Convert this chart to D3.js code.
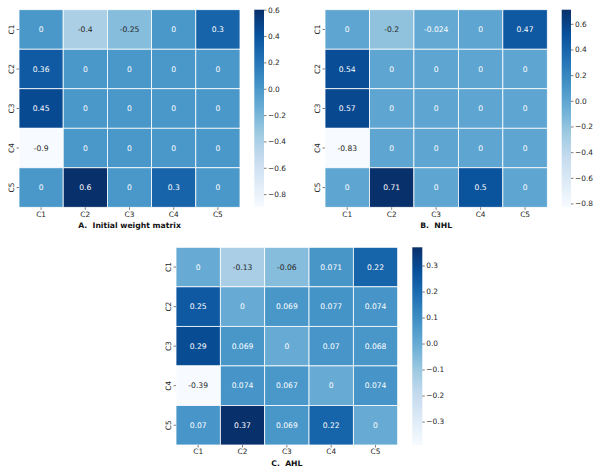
<!DOCTYPE html>
<html>
<head>
<meta charset="utf-8">
<script src="https://cdn.jsdelivr.net/npm/d3@7"></script>
<style>
  body { margin: 0; background: #fff; }
  text { font-family: "DejaVu Sans", sans-serif; }
</style>
</head>
<body>
<svg id="vis"></svg>
<script>
const WIDTH = 600;
const HEIGHT = 472;

const labels = ["C1", "C2", "C3", "C4", "C5"];

// weight matrices, rows = source, cols = target
const initialW = [
  [0, -0.4, -0.25, 0, 0.3],
  [0.36, 0, 0, 0, 0],
  [0.45, 0, 0, 0, 0],
  [-0.9, 0, 0, 0, 0],
  [0, 0.6, 0, 0.3, 0]
];
const nhlW = [
  [0, -0.2, -0.024, 0, 0.47],
  [0.54, 0, 0, 0, 0],
  [0.57, 0, 0, 0, 0],
  [-0.83, 0, 0, 0, 0],
  [0, 0.71, 0, 0.5, 0]
];
const ahlW = [
  [0, -0.13, -0.06, 0.071, 0.22],
  [0.25, 0, 0.069, 0.077, 0.074],
  [0.29, 0.069, 0, 0.07, 0.068],
  [-0.39, 0.074, 0.067, 0, 0.074],
  [0.07, 0.37, 0.069, 0.22, 0]
];

const ticksAB = [0.6, 0.4, 0.2, 0.0, -0.2, -0.4, -0.6, -0.8];
const ticksC = [0.3, 0.2, 0.1, 0.0, -0.1, -0.2, -0.3];

const titles = ["A.  Initial weight matrix", "B.  NHL", "C.  AHL"];

const SVG = d3.select("#vis")
  .attr("width", WIDTH)
  .attr("height", HEIGHT);

// matplotlib "Blues" = linear through the 9 brewer colours
const blues = d3.schemeBlues[9];

function luminance(c) {
  const rgb = d3.rgb(c);
  const lin = [rgb.r, rgb.g, rgb.b].map(v => {
    v = v / 255;
    return v <= 0.03928 ? v / 12.92 : Math.pow((v + 0.055) / 1.055, 2.4);
  });
  return 0.2126 * lin[0] + 0.7152 * lin[1] + 0.0722 * lin[2];
}

function fmt(v) {
  // like python's .2g
  if (v === 0) return "0";
  return String(+v.toPrecision(2));
}

function heatmap(data, ticks, title, box, id) {
  const g = SVG.append("g").attr("id", id);
  const flat = data.flat();
  const vmin = d3.min(flat), vmax = d3.max(flat);

  const color = d3.scaleLinear()
    .domain(d3.range(9).map(i => vmin + (vmax - vmin) * i / 8))
    .range(blues)
    .interpolate(d3.interpolateRgb);

  const x = d3.scaleBand().domain(labels).range([box.x0, box.x1]);
  const y = d3.scaleBand().domain(labels).range([box.y0, box.y1]);

  const cells = [];
  data.forEach((row, i) => row.forEach((v, j) => cells.push({r: labels[i], c: labels[j], v: v})));

  g.selectAll("rect.cell")
    .data(cells)
    .enter()
    .append("rect")
    .attr("class", "cell")
    .attr("x", d => x(d.c))
    .attr("y", d => y(d.r))
    .attr("width", x.bandwidth())
    .attr("height", y.bandwidth())
    .attr("fill", d => color(d.v))
    .attr("stroke", "#fff")
    .attr("stroke-width", 0.8);

  g.selectAll("text.annot")
    .data(cells)
    .enter()
    .append("text")
    .attr("class", "annot")
    .attr("x", d => x(d.c) + x.bandwidth() / 2)
    .attr("y", d => y(d.r) + y.bandwidth() / 2)
    .attr("dy", "0.35em")
    .attr("text-anchor", "middle")
    .attr("font-size", 7.6)
    .attr("fill", d => luminance(color(d.v)) > 0.408 ? "#262626" : "#fff")
    .text(d => fmt(d.v));

  // x axis
  const xAxis = g.append("g")
    .attr("transform", `translate(0,${box.y1})`)
    .call(d3.axisBottom(x).tickSize(2.5).tickPadding(1.5));
  // y axis
  const yAxis = g.append("g")
    .attr("transform", `translate(${box.x0},0)`)
    .call(d3.axisLeft(y).tickSize(2.5).tickPadding(1.5));
  [xAxis, yAxis].forEach(a => {
    a.select(".domain").remove();
    a.selectAll("text").attr("font-size", 7.4).attr("fill", "#262626")
      .style("font-family", "DejaVu Sans");
    a.selectAll("line").attr("stroke", "#262626").attr("stroke-width", 0.6);
  });
  yAxis.selectAll(".tick text")
    .attr("text-anchor", "middle")
    .attr("x", 0)
    .attr("transform", "translate(-7.5,0) rotate(-90)")
    .attr("dy", "0.35em");

  // colorbar
  const cy = d3.scaleLinear().domain([vmin, vmax]).range([box.y1, box.y0]);
  const grad = SVG.append("defs").append("linearGradient")
    .attr("id", "grad_" + id)
    .attr("x1", 0).attr("y1", 1).attr("x2", 0).attr("y2", 0);
  grad.selectAll("stop")
    .data(d3.range(9))
    .enter()
    .append("stop")
    .attr("offset", i => i / 8)
    .attr("stop-color", i => blues[i]);

  g.append("rect")
    .attr("x", box.cx0)
    .attr("y", box.y0)
    .attr("width", box.cx1 - box.cx0)
    .attr("height", box.y1 - box.y0)
    .attr("fill", `url(#grad_${id})`);

  const cAxis = g.append("g")
    .attr("transform", `translate(${box.cx1},0)`)
    .call(d3.axisRight(cy).tickValues(ticks).tickSize(2.5).tickPadding(1.5)
      .tickFormat(d => d3.format(".1f")(d).replace("-", "\u2212")));
  cAxis.select(".domain").remove();
  cAxis.selectAll("text").attr("font-size", 7.4).attr("fill", "#262626")
    .style("font-family", "DejaVu Sans");
  cAxis.selectAll("line").attr("stroke", "#262626").attr("stroke-width", 0.6);

  g.append("text")
    .attr("x", (box.x0 + box.x1) / 2)
    .attr("y", box.y1 + 21)
    .attr("text-anchor", "middle")
    .attr("font-size", 7.7)
    .attr("font-weight", "bold")
    .attr("fill", "#111")
    .style("white-space", "pre")
    .text(title);
}

heatmap(initialW, ticksAB, titles[0],
  {x0: 19, x1: 240, y0: 9.7, y1: 207.3, cx0: 254.3, cx1: 264}, "A");
heatmap(nhlW, ticksAB, titles[1],
  {x0: 325, x1: 547.3, y0: 9.7, y1: 207.3, cx0: 561.7, cx1: 571}, "B");
heatmap(ahlW, ticksC, titles[2],
  {x0: 176, x1: 397.7, y0: 247.3, y1: 445, cx0: 412.3, cx1: 422.3}, "C");
</script>
</body>
</html>
